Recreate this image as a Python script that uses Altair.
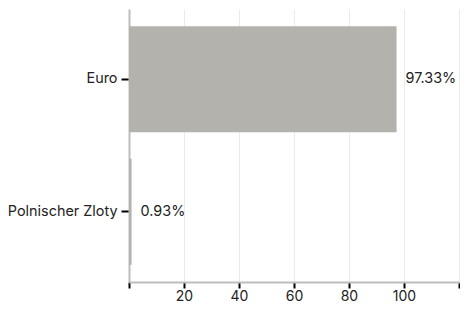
import altair as alt
import pandas as pd

categories = ["Euro", "Polnischer Zloty"]
values = [97.33, 0.93]
labels = ["97.33%", "0.93%"]

df = pd.DataFrame({"cat": categories, "val": values, "label": labels})

FONT = "Inter"
FS = 14.4

base = alt.Chart(df).encode(
    y=alt.Y("cat:N", sort=categories, title=None,
            scale=alt.Scale(paddingInner=0.2, paddingOuter=0.13),
            axis=alt.Axis(domainColor="#bdbdbd", domainWidth=2, tickColor="#000000",
                          tickSize=8, tickWidth=2, labelPadding=4, labelFontSize=FS,
                          labelColor="#222222", labelFont=FONT, grid=False)),
)

bars = base.mark_bar(color="#b3b2ad").encode(
    x=alt.X("val:Q", title=None,
            scale=alt.Scale(domain=[0, 120.4], nice=False),
            axis=alt.Axis(values=[0, 20, 40, 60, 80, 100, 120],
                          labelExpr="datum.value == 0 || datum.value == 120 ? '' : datum.label",
                          domainColor="#bdbdbd", domainWidth=2, tickColor="#000000",
                          tickSize=6, tickWidth=2, labelFontSize=14, labelColor="#222222",
                          labelFont=FONT, labelPadding=1, gridColor="#ebebeb", grid=True)),
)

text = base.mark_text(align="left", dx=9, fontSize=FS, font=FONT, color="#222222").encode(
    x="val:Q", text="label:N"
)

chart = (bars + text).properties(
    width=331, height=273,
    padding={"left": 121, "top": 1, "right": 0, "bottom": 21},
    autosize=alt.AutoSizeParams(type="none"),
).configure_view(stroke=None)

chart.save("out.html", embed_options={"renderer": "svg", "actions": False})
